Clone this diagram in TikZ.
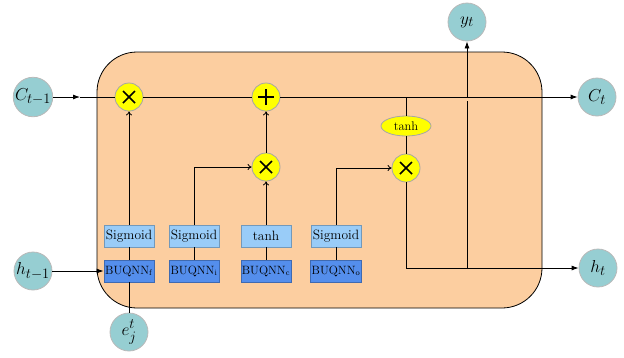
\documentclass[tikz,border=0pt]{standalone}
\usepackage{amsmath}
\usepackage{tikz}
\usetikzlibrary{arrows.meta, positioning, shapes.geometric, calc}
\definecolor{CellBG}{RGB}{252,206,160}
\definecolor{PortTeal}{RGB}{150,206,210}
\definecolor{GateLight}{RGB}{153,204,248}
\definecolor{GateDark}{RGB}{84,142,236}
\definecolor{OpYellow}{RGB}{255,255,0}

\tikzset{
  port/.style={circle, draw=gray!55, fill=PortTeal, minimum size=38pt, inner sep=0pt, font=\fontsize{19}{22}\selectfont},
  op/.style={circle, draw=gray!70, fill=OpYellow, minimum size=28pt, inner sep=0pt},
  mult/.style={op, path picture={
      \draw[black, line width=1.5pt] ([shift={(-6,-6)}]path picture bounding box.center) -- ([shift={(6,6)}]path picture bounding box.center);
      \draw[black, line width=1.5pt] ([shift={(-6,6)}]path picture bounding box.center) -- ([shift={(6,-6)}]path picture bounding box.center);}},
  plus/.style={op, path picture={
      \draw[black, line width=1.5pt] ([shift={(-8,0)}]path picture bounding box.center) -- ([shift={(8,0)}]path picture bounding box.center);
      \draw[black, line width=1.5pt] ([shift={(0,-8)}]path picture bounding box.center) -- ([shift={(0,8)}]path picture bounding box.center);}},
  actbox/.style={draw=GateLight!75!black, fill=GateLight, minimum width=50pt, minimum height=22pt, inner sep=1pt, font=\fontsize{13.5}{15}\selectfont},
  qbox/.style={draw=GateDark!75!black, fill=GateDark, minimum width=50pt, minimum height=22pt, inner sep=1pt, font=\fontsize{12}{14}\selectfont},
  outarr/.style={-{Latex[length=7pt,width=5pt]}},
  inarr/.style={-{To[length=4pt,width=6pt]}}
}

\begin{document}
\begin{tikzpicture}[x=1pt, y=-1pt, line width=0.8pt]
  \useasboundingbox (0,0) rectangle (624,357);
  % cell body
  \draw[fill=CellBG, rounded corners=40] (97,52) rectangle (542,308);

  % ports
  \node[port] (cprev) at (33,97)  {$C_{t-1}$};
  \node[port] (hprev) at (33,271) {$h_{t-1}$};
  \node[port] (ej)    at (129,332) {$e^{t}_{j}$};
  \node[port] (yt)    at (467,22) {$y_t$};
  \node[port] (ct)    at (597,97) {$C_t$};
  \node[port] (ht)    at (598,268) {$h_t$};

  % pointwise ops
  \node[mult] (fx) at (129,97)  {};
  \node[plus] (ax) at (266,97)  {};
  \node[mult] (ix) at (266,167) {};
  \node[mult] (ox) at (406,168) {};
  \node[ellipse, draw=gray!70, fill=OpYellow, minimum width=50pt, minimum height=20pt, inner sep=0pt, font=\fontsize{12.5}{13}\selectfont] (tnh) at (406,126) {tanh};

  % gates
  \node[actbox] (sf) at (129,236) {Sigmoid};
  \node[actbox] (si) at (194,236) {Sigmoid};
  \node[actbox] (tc) at (266,236) {tanh};
  \node[actbox] (so) at (336,236) {Sigmoid};
  \node[qbox] (bf) at (129,271) {BUQNN$_{\mathrm{f}}$};
  \node[qbox] (bi) at (194,271) {BUQNN$_{\mathrm{i}}$};
  \node[qbox] (bc) at (266,271) {BUQNN$_{\mathrm{c}}$};
  \node[qbox] (bo) at (336,271) {BUQNN$_{\mathrm{o}}$};

  \coordinate (cin) at (80,97);
  \coordinate (hj) at (ht -| yt);
  \coordinate (cj) at (ax -| yt);

  % cell state line
  \draw[outarr] (cprev) -- (cin);
  \draw (cin) -- (fx);
  \draw (fx) -- (ax);
  \draw[outarr] (ax) -- (ct);

  % gate wiring
  \draw[outarr] (hprev) -- (bf);
  \draw (ej) -- (bf);
  \draw (bf) -- (sf);
  \draw[inarr] (sf) -- (fx);
  \draw (bi) -- (si);
  \draw[inarr] (si) |- (ix);
  \draw (bc) -- (tc);
  \draw[inarr] (tc) -- (ix);
  \draw[inarr] (ix) -- (ax);
  \draw (bo) -- (so);
  \draw[inarr] (so) |- (ox);

  % output
  \draw (ax -| ox) -- (tnh);
  \draw (tnh) -- (ox);
  \draw[outarr] (ox) |- (ht);
  \draw (hj) -- ($(cj)+(0,4)$);
  \draw[outarr] (cj) -- (yt);
\end{tikzpicture}
\end{document}
